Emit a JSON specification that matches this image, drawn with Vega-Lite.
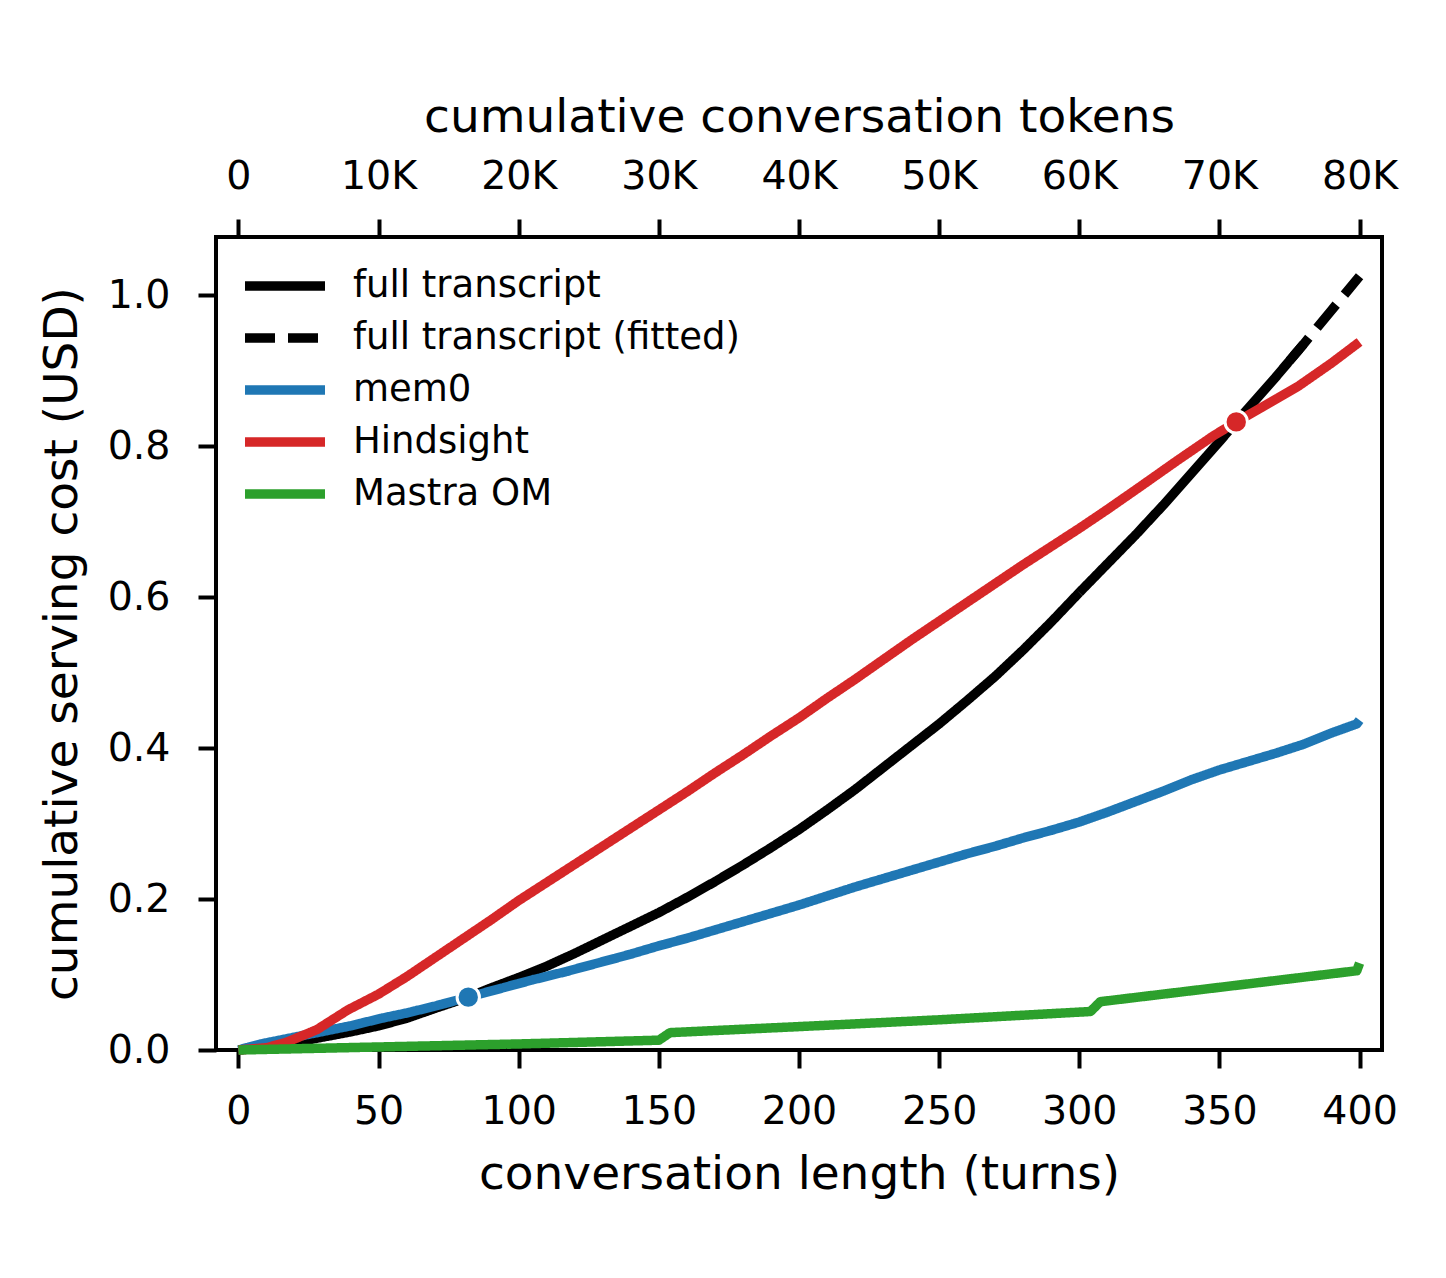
{
  "$schema": "https://vega.github.io/schema/vega-lite/v6.json",
  "description": "Cumulative serving cost vs conversation length",
  "width": 1166,
  "height": 813,
  "autosize": {"type": "none"},
  "padding": {"left": 216, "top": 237, "right": 64, "bottom": 228},
  "background": "white",
  "datasets": {
    "lines": [
      {"series": "full transcript", "turn": 0, "cost": 0},
      {"series": "full transcript", "turn": 10, "cost": 0.003},
      {"series": "full transcript", "turn": 20, "cost": 0.01},
      {"series": "full transcript", "turn": 30, "cost": 0.017},
      {"series": "full transcript", "turn": 40, "cost": 0.024},
      {"series": "full transcript", "turn": 50, "cost": 0.032},
      {"series": "full transcript", "turn": 60, "cost": 0.042},
      {"series": "full transcript", "turn": 70, "cost": 0.055},
      {"series": "full transcript", "turn": 82, "cost": 0.07},
      {"series": "full transcript", "turn": 90, "cost": 0.082},
      {"series": "full transcript", "turn": 100, "cost": 0.096},
      {"series": "full transcript", "turn": 110, "cost": 0.111},
      {"series": "full transcript", "turn": 120, "cost": 0.128},
      {"series": "full transcript", "turn": 130, "cost": 0.146},
      {"series": "full transcript", "turn": 140, "cost": 0.164},
      {"series": "full transcript", "turn": 150, "cost": 0.182},
      {"series": "full transcript", "turn": 160, "cost": 0.202},
      {"series": "full transcript", "turn": 170, "cost": 0.223},
      {"series": "full transcript", "turn": 180, "cost": 0.245},
      {"series": "full transcript", "turn": 190, "cost": 0.268},
      {"series": "full transcript", "turn": 200, "cost": 0.292},
      {"series": "full transcript", "turn": 210, "cost": 0.318},
      {"series": "full transcript", "turn": 220, "cost": 0.345},
      {"series": "full transcript", "turn": 230, "cost": 0.374},
      {"series": "full transcript", "turn": 240, "cost": 0.403},
      {"series": "full transcript", "turn": 250, "cost": 0.432},
      {"series": "full transcript", "turn": 260, "cost": 0.463},
      {"series": "full transcript", "turn": 270, "cost": 0.495},
      {"series": "full transcript", "turn": 280, "cost": 0.53},
      {"series": "full transcript", "turn": 290, "cost": 0.567},
      {"series": "full transcript", "turn": 300, "cost": 0.606},
      {"series": "full transcript", "turn": 310, "cost": 0.644},
      {"series": "full transcript", "turn": 320, "cost": 0.682},
      {"series": "full transcript", "turn": 330, "cost": 0.722},
      {"series": "full transcript", "turn": 340, "cost": 0.764},
      {"series": "full transcript", "turn": 350, "cost": 0.806},
      {"series": "full transcript", "turn": 356, "cost": 0.832},
      {"series": "full transcript", "turn": 360, "cost": 0.849},
      {"series": "full transcript", "turn": 370, "cost": 0.891},
      {"series": "full transcript", "turn": 380, "cost": 0.935},
      {"series": "full transcript (fitted)", "turn": 375, "cost": 0.913},
      {"series": "full transcript (fitted)", "turn": 380, "cost": 0.935},
      {"series": "full transcript (fitted)", "turn": 390, "cost": 0.98},
      {"series": "full transcript (fitted)", "turn": 400, "cost": 1.025},
      {"series": "mem0", "turn": 0, "cost": 0},
      {"series": "mem0", "turn": 8, "cost": 0.008},
      {"series": "mem0", "turn": 20, "cost": 0.017},
      {"series": "mem0", "turn": 32, "cost": 0.026},
      {"series": "mem0", "turn": 40, "cost": 0.032},
      {"series": "mem0", "turn": 51, "cost": 0.042},
      {"series": "mem0", "turn": 60, "cost": 0.049},
      {"series": "mem0", "turn": 70, "cost": 0.058},
      {"series": "mem0", "turn": 82, "cost": 0.07},
      {"series": "mem0", "turn": 95, "cost": 0.083},
      {"series": "mem0", "turn": 105, "cost": 0.093},
      {"series": "mem0", "turn": 117, "cost": 0.104},
      {"series": "mem0", "turn": 129, "cost": 0.116},
      {"series": "mem0", "turn": 140, "cost": 0.127},
      {"series": "mem0", "turn": 150, "cost": 0.138},
      {"series": "mem0", "turn": 160, "cost": 0.148},
      {"series": "mem0", "turn": 170, "cost": 0.159},
      {"series": "mem0", "turn": 180, "cost": 0.17},
      {"series": "mem0", "turn": 190, "cost": 0.181},
      {"series": "mem0", "turn": 200, "cost": 0.192},
      {"series": "mem0", "turn": 210, "cost": 0.204},
      {"series": "mem0", "turn": 220, "cost": 0.216},
      {"series": "mem0", "turn": 230, "cost": 0.227},
      {"series": "mem0", "turn": 240, "cost": 0.238},
      {"series": "mem0", "turn": 250, "cost": 0.249},
      {"series": "mem0", "turn": 260, "cost": 0.26},
      {"series": "mem0", "turn": 270, "cost": 0.27},
      {"series": "mem0", "turn": 280, "cost": 0.281},
      {"series": "mem0", "turn": 290, "cost": 0.291},
      {"series": "mem0", "turn": 300, "cost": 0.302},
      {"series": "mem0", "turn": 310, "cost": 0.315},
      {"series": "mem0", "turn": 320, "cost": 0.329},
      {"series": "mem0", "turn": 330, "cost": 0.343},
      {"series": "mem0", "turn": 340, "cost": 0.358},
      {"series": "mem0", "turn": 350, "cost": 0.371},
      {"series": "mem0", "turn": 360, "cost": 0.382},
      {"series": "mem0", "turn": 370, "cost": 0.393},
      {"series": "mem0", "turn": 380, "cost": 0.405},
      {"series": "mem0", "turn": 390, "cost": 0.42},
      {"series": "mem0", "turn": 399, "cost": 0.432},
      {"series": "mem0", "turn": 400, "cost": 0.437},
      {"series": "Hindsight", "turn": 0, "cost": 0},
      {"series": "Hindsight", "turn": 10, "cost": 0.003},
      {"series": "Hindsight", "turn": 17, "cost": 0.01},
      {"series": "Hindsight", "turn": 28, "cost": 0.027},
      {"series": "Hindsight", "turn": 39, "cost": 0.053},
      {"series": "Hindsight", "turn": 50, "cost": 0.074},
      {"series": "Hindsight", "turn": 60, "cost": 0.097},
      {"series": "Hindsight", "turn": 70, "cost": 0.122},
      {"series": "Hindsight", "turn": 80, "cost": 0.147},
      {"series": "Hindsight", "turn": 90, "cost": 0.172},
      {"series": "Hindsight", "turn": 100, "cost": 0.198},
      {"series": "Hindsight", "turn": 110, "cost": 0.222},
      {"series": "Hindsight", "turn": 120, "cost": 0.246},
      {"series": "Hindsight", "turn": 130, "cost": 0.27},
      {"series": "Hindsight", "turn": 140, "cost": 0.294},
      {"series": "Hindsight", "turn": 150, "cost": 0.318},
      {"series": "Hindsight", "turn": 160, "cost": 0.342},
      {"series": "Hindsight", "turn": 170, "cost": 0.367},
      {"series": "Hindsight", "turn": 180, "cost": 0.391},
      {"series": "Hindsight", "turn": 190, "cost": 0.416},
      {"series": "Hindsight", "turn": 200, "cost": 0.44},
      {"series": "Hindsight", "turn": 210, "cost": 0.466},
      {"series": "Hindsight", "turn": 220, "cost": 0.491},
      {"series": "Hindsight", "turn": 230, "cost": 0.517},
      {"series": "Hindsight", "turn": 240, "cost": 0.543},
      {"series": "Hindsight", "turn": 250, "cost": 0.568},
      {"series": "Hindsight", "turn": 260, "cost": 0.593},
      {"series": "Hindsight", "turn": 270, "cost": 0.618},
      {"series": "Hindsight", "turn": 280, "cost": 0.643},
      {"series": "Hindsight", "turn": 290, "cost": 0.667},
      {"series": "Hindsight", "turn": 300, "cost": 0.691},
      {"series": "Hindsight", "turn": 310, "cost": 0.716},
      {"series": "Hindsight", "turn": 322, "cost": 0.747},
      {"series": "Hindsight", "turn": 335, "cost": 0.781},
      {"series": "Hindsight", "turn": 348, "cost": 0.814},
      {"series": "Hindsight", "turn": 356, "cost": 0.832},
      {"series": "Hindsight", "turn": 365, "cost": 0.851},
      {"series": "Hindsight", "turn": 378, "cost": 0.879},
      {"series": "Hindsight", "turn": 390, "cost": 0.91},
      {"series": "Hindsight", "turn": 400, "cost": 0.938},
      {"series": "Mastra OM", "turn": 0, "cost": 0},
      {"series": "Mastra OM", "turn": 50, "cost": 0.004},
      {"series": "Mastra OM", "turn": 100, "cost": 0.008},
      {"series": "Mastra OM", "turn": 150, "cost": 0.013},
      {"series": "Mastra OM", "turn": 154, "cost": 0.023},
      {"series": "Mastra OM", "turn": 200, "cost": 0.031},
      {"series": "Mastra OM", "turn": 250, "cost": 0.04},
      {"series": "Mastra OM", "turn": 304, "cost": 0.051},
      {"series": "Mastra OM", "turn": 307.5, "cost": 0.064},
      {"series": "Mastra OM", "turn": 350, "cost": 0.083},
      {"series": "Mastra OM", "turn": 399, "cost": 0.105},
      {"series": "Mastra OM", "turn": 400, "cost": 0.115}
    ],
    "markers": [
      {"series": "mem0", "turn": 82, "cost": 0.07},
      {"series": "Hindsight", "turn": 356, "cost": 0.832}
    ]
  },
  "layer": [
    {
      "data": {"name": "lines"},
      "mark": {"type": "line", "strokeCap": "butt", "strokeJoin": "round"},
      "encoding": {
        "x": {
          "field": "turn",
          "type": "quantitative",
          "scale": {"domain": [-8, 408], "nice": false, "zero": false},
          "axis": {
            "orient": "bottom",
            "title": "conversation length (turns)",
            "values": [0, 50, 100, 150, 200, 250, 300, 350, 400],
            "labelPadding": 24,
            "titlePadding": 21
          }
        },
        "y": {
          "field": "cost",
          "type": "quantitative",
          "scale": {"domain": [0, 1.077], "nice": false},
          "axis": {
            "orient": "left",
            "title": "cumulative serving cost (USD)",
            "values": [0, 0.2, 0.4, 0.6, 0.8, 1.0],
            "format": ".1f",
            "labelPadding": 28,
            "titlePadding": 21
          }
        },
        "color": {
          "field": "series",
          "type": "nominal",
          "scale": {
            "domain": ["full transcript", "full transcript (fitted)", "mem0", "Hindsight", "Mastra OM"],
            "range": ["#000000", "#000000", "#1f77b4", "#d62728", "#2ca02c"]
          },
          "legend": {
            "title": null,
            "orient": "top-left",
            "offset": 24,
            "padding": 0,
            "symbolType": "M-1,0H3",
            "symbolSize": 1600,
            "symbolStrokeWidth": 9,
            "labelFontSize": 37,
            "labelFont": "DejaVu Sans",
            "labelColor": "black",
            "labelLimit": 0,
            "labelOffset": 63,
            "rowPadding": 8
          }
        },
        "strokeDash": {
          "field": "series",
          "type": "nominal",
          "scale": {
            "domain": ["full transcript", "full transcript (fitted)", "mem0", "Hindsight", "Mastra OM"],
            "range": [[1, 0], [30, 13], [1, 0], [1, 0], [1, 0]]
          }
        },
        "strokeWidth": {
          "field": "series",
          "type": "nominal",
          "scale": {
            "domain": ["full transcript", "full transcript (fitted)", "mem0", "Hindsight", "Mastra OM"],
            "range": [9.5, 9.5, 8, 8, 8]
          },
          "legend": null
        },
        "order": {"field": "turn", "type": "quantitative"}
      }
    },
    {
      "data": {"name": "markers"},
      "transform": [{"filter": "datum.series === 'mem0'"}],
      "mark": {"type": "point", "filled": true, "shape": "circle", "size": 500, "color": "#1f77b4", "stroke": "white", "strokeWidth": 3, "opacity": 1},
      "encoding": {
        "x": {
          "field": "turn",
          "type": "quantitative",
          "axis": {
            "orient": "top",
            "title": "cumulative conversation tokens",
            "values": [0, 50, 100, 150, 200, 250, 300, 350, 400],
            "labelExpr": "datum.value == 0 ? '0' : (datum.value * 200 / 1000) + 'K'",
            "labelPadding": 23,
            "titlePadding": 15
          }
        },
        "y": {"field": "cost", "type": "quantitative", "axis": null}
      }
    },
    {
      "data": {"name": "markers"},
      "transform": [{"filter": "datum.series === 'Hindsight'"}],
      "mark": {"type": "point", "filled": true, "shape": "circle", "size": 500, "color": "#d62728", "stroke": "white", "strokeWidth": 3, "opacity": 1},
      "encoding": {
        "x": {"field": "turn", "type": "quantitative", "axis": null},
        "y": {"field": "cost", "type": "quantitative", "axis": null}
      }
    }
  ],
  "resolve": {"axis": {"x": "independent", "y": "independent"}},
  "config": {
    "font": "DejaVu Sans",
    "view": {"stroke": "black", "strokeWidth": 4},
    "axis": {
      "domain": false,
      "grid": false,
      "ticks": true,
      "tickColor": "black",
      "tickWidth": 4,
      "tickSize": 18,
      "labelFont": "DejaVu Sans",
      "labelFontSize": 39.5,
      "labelColor": "black",
      "titleFont": "DejaVu Sans",
      "titleFontSize": 47,
      "titleFontWeight": "normal",
      "titleColor": "black"
    }
  }
}
